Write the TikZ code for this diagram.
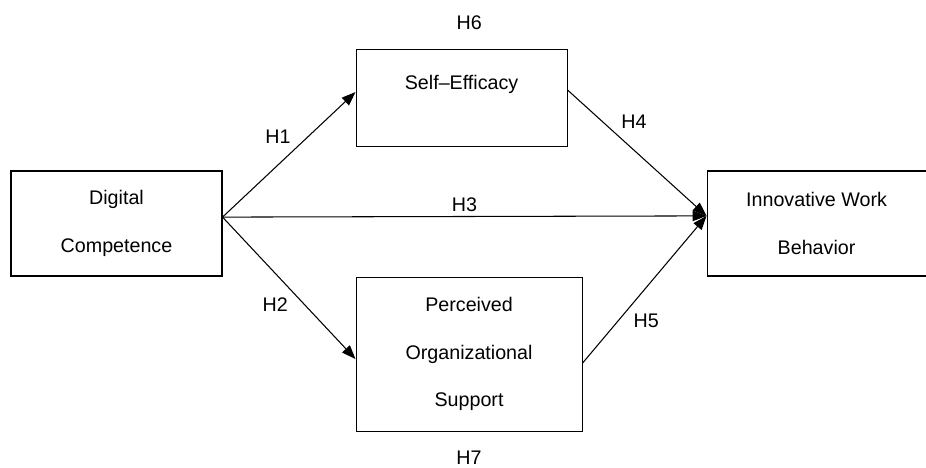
\documentclass[tikz,border=0pt]{standalone}
\usepackage{fontspec}
\setmainfont{Liberation Sans}
\usetikzlibrary{arrows.meta, positioning}
\tikzset{
  box/.style={rectangle, draw=black, line width=0.75pt, align=center,
    font=\fontsize{14}{34}\selectfont, inner sep=0pt},
  hlabel/.style={font=\fontsize{14}{17}\selectfont},
  arrow/.style={-{Triangle[length=0.35cm, width=0.26cm]}, line width=0.75pt}
}

\begin{document}
\begin{tikzpicture}
  \useasboundingbox (0,0) rectangle (23.15,-11.7);
  \node[box, minimum width=5.275cm, minimum height=2.625cm] (dc) at (2.9125,-5.5875) {Digital\\Competence};
  \node[box, minimum width=5.275cm, minimum height=2.425cm, text depth=0.78cm,
    above right=0.575cm and 3.325cm of dc.north east] (se) {Self–Efficacy};
  \node[box, minimum width=5.65cm, minimum height=3.85cm,
    below right=0cm and 3.325cm of dc.south east] (pos) {Perceived\\Organizational\\Support};
  \node[box, minimum width=5.475cm, minimum height=2.625cm, right=12.1cm of dc] (iwb) {Innovative Work\\Behavior};

  % ports on the box sides
  \coordinate (dcport) at ([yshift=0.16cm]dc.east);
  \coordinate (sein)   at ([yshift=0.16cm]se.west);
  \coordinate (seout)  at ([yshift=0.21cm]se.east);
  \coordinate (posin)  at ([yshift=-0.125cm]pos.west);
  \coordinate (posout) at ([yshift=-0.225cm]pos.east);
  \coordinate (iwbin)  at ([yshift=0.19cm]iwb.west);

  \draw[arrow] (dcport) -- node[hlabel, pos=0.55, above left] (h1) {H1} (sein);
  \draw[arrow] (dcport) -- node[hlabel, pos=0.53, below left] (h2) {H2} (posin);
  \draw[arrow] (dcport) -- node[hlabel, above] (h3) {H3} (iwbin);
  \draw[arrow] (seout)  -- node[hlabel, pos=0.35, above right] (h4) {H4} (iwbin);
  \draw[arrow] (posout) -- node[hlabel, pos=0.37, below right] (h5) {H5} (iwbin);
  % indirect paths
  \node[hlabel, above=0.38cm of se, xshift=0.19cm] (h6) {H6};
  \node[hlabel, below=0.35cm of pos] (h7) {H7};
\end{tikzpicture}
\end{document}
